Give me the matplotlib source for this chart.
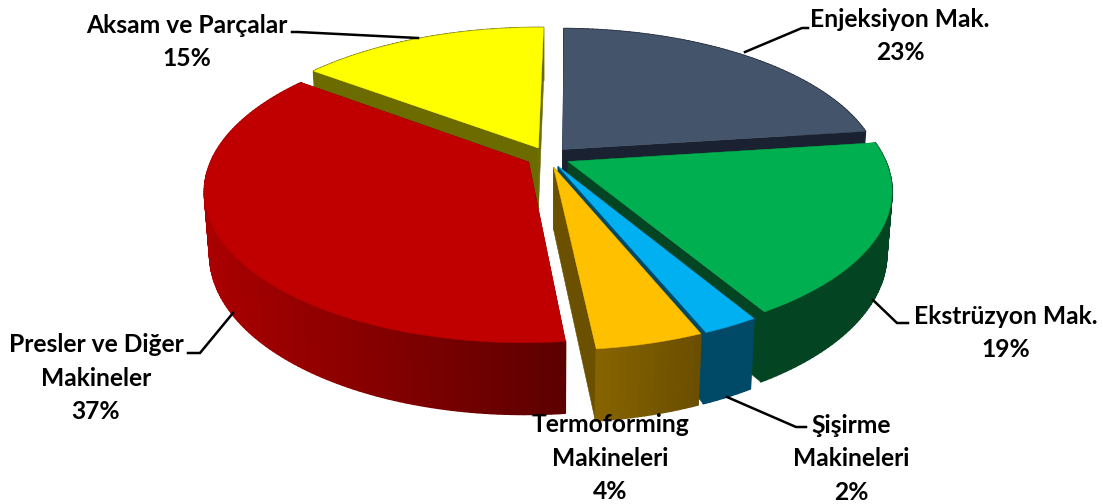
import numpy as np
import matplotlib
matplotlib.use("Agg")
import matplotlib.pyplot as plt
from matplotlib.colors import to_rgb
from matplotlib.patches import Polygon

categories = ["Enjeksiyon Mak.", "Ekstrüzyon Mak.", "Şişirme\nMakineleri",
              "Termoforming\nMakineleri", "Presler ve Diğer\nMakineler", "Aksam ve Parçalar"]
values = [22.7, 18.55, 2.35, 4.49, 36.91, 15.0]
top_colors = ["#44546A", "#00B050", "#00B0F0", "#FFC000", "#C00000", "#FFFF00"]
side_colors = ["#1A2231", "#034522", "#004A68", "#6B5000", "#600000", "#6B6B00"]
wall_left = ["#1A2231", "#034522", "#004A68", "#876400", "#AA0000", "#6B6B00"]
wall_right = ["#1A2231", "#034522", "#004A68", "#6A4E00", "#5C0000", "#6B6B00"]
draw_order = [5, 0, 1, 4, 2, 3]

label_pos = [(900, 36), (1006, 333), (851, 459), (610, 458), (96, 378), (187, 42)]
leaders = [[(745, 52), (802, 28), (808, 28)],
           [(873, 300), (897, 323), (908, 323)],
           [(727, 397), (796, 427), (806, 427)],
           None,
           [(233, 313), (200, 353), (188, 353)],
           [(418, 38), (298, 32), (292, 32)]]

CX, CY, R, RY, K, DEPTH, M, EXPLODE, ROT = 548, 157, 316, 145.5, 0.183, 62, 0.015, 0.07, 0.8
FONT_PX = 24.6


def proj(u, v, z=0.0):
    w = 1 + K * v + M * z
    return CX + R * u / w, CY - (RY * v - DEPTH * z) / w


fig = plt.figure(figsize=(11.03, 5.04), dpi=100)
ax = fig.add_axes([0, 0, 1, 1])
ax.set_xlim(0, 1103)
ax.set_ylim(504, 0)
ax.axis("off")

shares = np.array(values, dtype=float) / sum(values)
edges = np.concatenate([[0], np.cumsum(shares)]) * 360 + ROT

for i in draw_order:
    a0, a1 = np.radians(edges[i]), np.radians(edges[i + 1])
    mid = (a0 + a1) / 2
    u0, v0 = EXPLODE * np.sin(mid), EXPLODE * np.cos(mid)
    th = np.linspace(a0, a1, max(int(np.degrees(a1 - a0)), 6))
    us, vs = u0 + np.sin(th), v0 + np.cos(th)

    # straight inner sides
    for a_u, a_v in ((us[0], vs[0]), (us[-1], vs[-1])):
        side = [proj(u0, v0), proj(a_u, a_v), proj(a_u, a_v, 1), proj(u0, v0, 1)]
        ax.add_patch(Polygon(side, closed=True, fc=side_colors[i], ec=side_colors[i], lw=0.4, zorder=1))

    # curved outer wall with horizontal gradient
    xs_top = np.array([proj(a, b)[0] for a, b in zip(us, vs)])
    span = max(xs_top.max() - xs_top.min(), 1)
    cl, cr = np.array(to_rgb(wall_left[i])), np.array(to_rgb(wall_right[i]))
    for j in range(len(th) - 1):
        t = ((xs_top[j] + xs_top[j + 1]) / 2 - xs_top.min()) / span
        c = cl + (cr - cl) * t
        quad = [proj(us[j], vs[j]), proj(us[j + 1], vs[j + 1]),
                proj(us[j + 1], vs[j + 1], 1), proj(us[j], vs[j], 1)]
        ax.add_patch(Polygon(quad, closed=True, fc=c, ec=c, lw=1.2, joinstyle="round", zorder=1))

    # top face
    outline = [proj(u0, v0)] + [proj(a, b) for a, b in zip(us, vs)]
    ax.add_patch(Polygon(outline, closed=True, fc=top_colors[i], ec=top_colors[i], lw=0.3, zorder=1))

for path in leaders:
    if path:
        ax.plot(*zip(*path), color="black", lw=1.8, zorder=2, solid_joinstyle="miter")

for name, val, (x, y) in zip(categories, values, label_pos):
    ax.text(x, y, f"{name}\n{val:.0f}%", ha="center", va="center", multialignment="center",
            family="Lato", weight="bold", fontsize=FONT_PX * 0.72, linespacing=1.55,
            color="black", zorder=3)

fig.savefig("out.png", dpi=100)
